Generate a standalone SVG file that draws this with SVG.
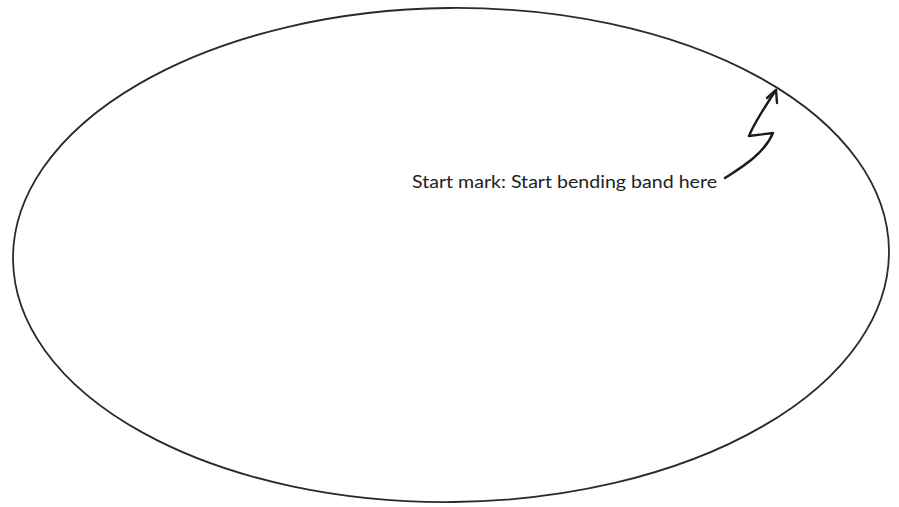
<svg xmlns="http://www.w3.org/2000/svg" width="899" height="507" viewBox="0 0 899 507">
<style>
.outline{fill:none;stroke:#2a2a2a;stroke-width:1.8}
.arrow{fill:none;stroke:#1a1a1a;stroke-width:2.4;stroke-linecap:round;stroke-linejoin:round}
.lbl{font-family:Lato,"Open Sans","Liberation Sans",sans-serif;font-size:18px;fill:#222}
</style>
<g id="band">
<ellipse class="outline" cx="451" cy="255" rx="438" ry="247" transform="rotate(-0.6 451 255)"/>
</g>
<g id="connectors">
<path class="arrow" d="M725,178 C742,167 764,154 773,133 L749,136 C753,126 760,114 776,90"/>
<path class="arrow" d="M767,98 L776,90 L777,103"/>
</g>
<g id="label">
<text class="lbl" x="412" y="188" textLength="305" lengthAdjust="spacingAndGlyphs">Start mark: Start bending band here</text>
</g>
</svg>
